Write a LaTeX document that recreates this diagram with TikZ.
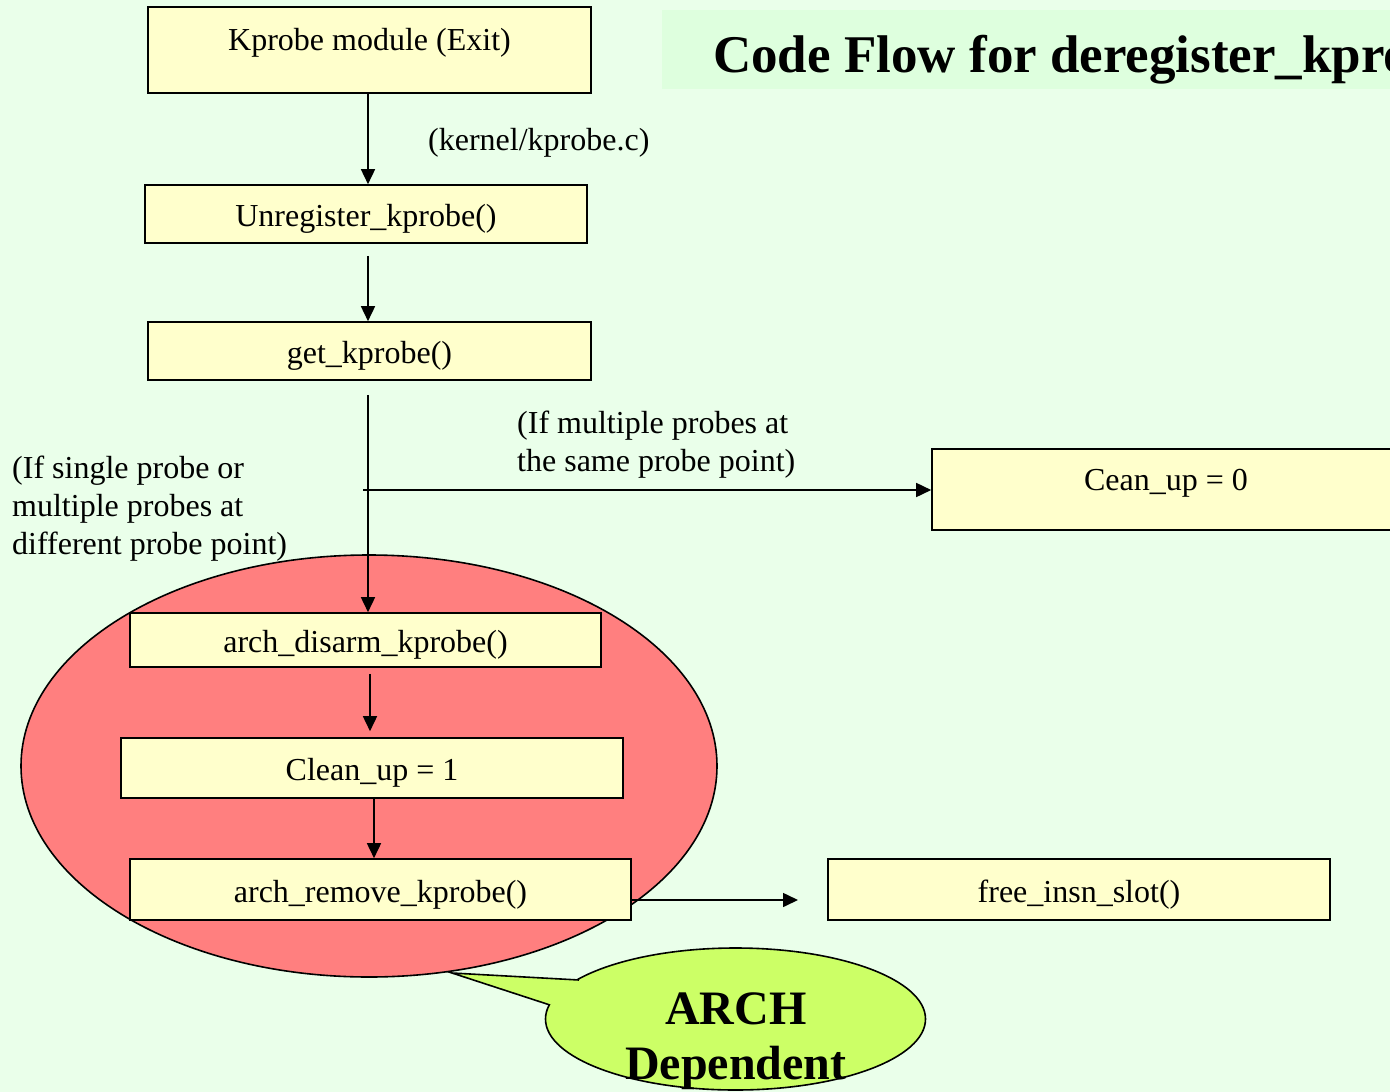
\documentclass[tikz,border=0pt]{standalone}
\usepackage{fontspec}
\setmainfont{Liberation Serif}
\usetikzlibrary{arrows.meta,shapes.geometric}
\definecolor{pagebg}{RGB}{234,255,234}
\definecolor{titlebg}{RGB}{222,255,222}
\definecolor{boxfill}{RGB}{255,255,204}
\definecolor{archred}{RGB}{255,127,127}
\definecolor{calloutgreen}{RGB}{204,255,102}
\newcommand\bodyfont{\fontsize{32}{38}\selectfont}
\begin{document}
\begin{tikzpicture}[x=1pt,y=-1pt,
  fnbox/.style={draw=black, line width=1.6pt, fill=boxfill, inner sep=0pt,
    font=\bodyfont, text height=27pt, text depth=2pt},
  flow/.style={-{Triangle[length=15pt,width=14pt]}, line width=1.6pt},
  note/.style={font=\bodyfont, align=left, inner sep=0pt, anchor=west}]
\useasboundingbox (0,0) rectangle (1390,1092);
\clip (0,0) rectangle (1390,1092);
\fill[pagebg] (0,0) rectangle (1390,1092);

% title banner
\fill[titlebg] (662,10) rectangle (1400,89);
\node[anchor=base west, inner sep=0pt, font=\fontsize{53}{60}\selectfont\bfseries] (title)
  at (713,72) {Code Flow for deregister\_kprobe()};

% architecture-dependent region
\node[ellipse, draw=black, fill=archred, line width=1.6pt, inner sep=0pt,
  minimum width=696pt, minimum height=422pt] (arch) at (369,766) {};

% speech bubble
\node[ellipse, draw=black, fill=calloutgreen, line width=1.6pt, inner sep=0pt,
  minimum width=380pt, minimum height=142pt] (callout) at (735.5,1019) {};
\fill[calloutgreen] (452,973) -- (579,980) -- (550,1005) -- cycle;
\draw[line width=1.6pt, line join=miter] (579,980) -- (452,973) -- (550,1005);
\node[inner sep=0pt, align=center, font=\fontsize{48}{55}\selectfont\bfseries] (archlbl)
  at (736,1041) {ARCH\\Dependent};

% function boxes
\node[fnbox, minimum width=443pt, minimum height=86pt, text depth=27pt] (exitmod)
  at (369.5,50) {Kprobe module (Exit)};
\node[fnbox, minimum width=442pt, minimum height=58pt] (unreg)
  at (366,214) {Unregister\_kprobe()};
\node[fnbox, minimum width=443pt, minimum height=58pt] (getkp)
  at (369.5,351) {get\_kprobe()};
\node[fnbox, minimum width=468pt, minimum height=81pt, text depth=25pt] (cleanzero)
  at (1166,489.5) {Cean\_up = 0};
\node[fnbox, minimum width=471pt, minimum height=54pt] (disarm)
  at (365.5,640) {arch\_disarm\_kprobe()};
\node[fnbox, minimum width=502pt, minimum height=60pt] (cleanone)
  at (372,768) {Clean\_up = 1};
\node[fnbox, minimum width=501pt, minimum height=61pt] (remove)
  at (380.5,889.5) {arch\_remove\_kprobe()};
\node[fnbox, minimum width=502pt, minimum height=61pt] (freeslot)
  at (1079,889.5) {free\_insn\_slot()};

% connectors
\coordinate (lane) at (368,0);
\coordinate (lanetwo) at (370,0);
\coordinate (lanethree) at (374,0);
\coordinate (split) at (363,490);
\coordinate (slotend) at (798,900);
\draw[flow] (exitmod.south -| lane) -- (unreg.north -| lane);
\draw[flow, shorten <=12pt] (unreg.south -| lane) -- (getkp.north -| lane);
\draw[flow, shorten <=14pt] (getkp.south -| lane) -- (disarm.north -| lane);
\draw[flow] (split) -- (split -| cleanzero.west);
\draw[flow, shorten <=6pt, shorten >=6pt] (disarm.south -| lanetwo) -- (cleanone.north -| lanetwo);
\draw[flow] (cleanone.south -| lanethree) -- (remove.north -| lanethree);
\draw[flow] (remove.east |- slotend) -- (slotend);

% annotations
\node[note] (srcfile) at (428,143) {(kernel/kprobe.c)};
\node[note] (samepoint) at (517,445) {(If multiple probes at\\the same probe point)};
\node[note] (diffpoint) at (12,509) {(If single probe or\\multiple probes at\\different probe point)};
\end{tikzpicture}
\end{document}
